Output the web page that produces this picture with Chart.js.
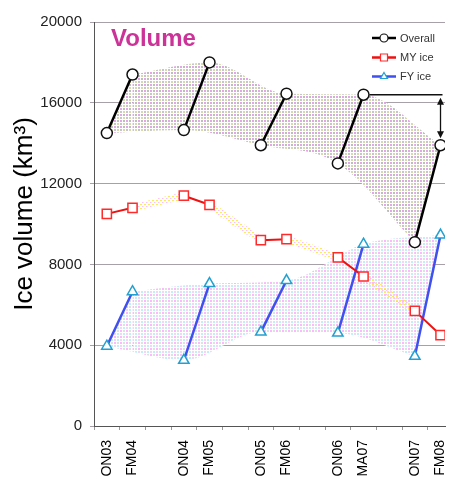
<!DOCTYPE html>
<html>
<head>
<meta charset="utf-8">
<script src="https://cdn.jsdelivr.net/npm/chart.js@4.4.1/dist/chart.umd.min.js"></script>
<style>
  html, body { margin: 0; padding: 0; background: #fff; }
  #wrap { width: 453px; height: 483px; }
</style>
</head>
<body>
<div id="wrap"><canvas id="c" width="453" height="483"></canvas></div>
<script>
// Campaign periods (autumn ON, winter FM / MA) and their month offsets from Oct–Nov 2003
const periods = ['ON03', 'FM04', 'ON04', 'FM05', 'ON05', 'FM06', 'ON06', 'MA07', 'ON07', 'FM08'];
const months  = [0, 4, 12, 16, 24, 28, 36, 40, 48, 52];

// Ice volume, km³
const overall = [14500, 17400, 14650, 18000, 13900, 16450, 13000, 16400, 9100, 13900];
const myIce   = [10500, 10800, 11400, 10950, 9200, 9250, 8350, 7400, 5700, 4500];
const fyIce   = [3950, 6650, 3250, 7050, 4650, 7200, 4600, 9000, 3450, 9450];

const yTicks = [0, 4000, 8000, 12000, 16000, 20000];

const FONT = "'Liberation Sans', Arial, sans-serif";

// indices of autumn and winter campaigns
const onIdx = [0, 2, 4, 6, 8];
const fmIdx = [1, 3, 5, 7, 9];
const winterGroups = onIdx.map((o, k) => [o, fmIdx[k]]);                  // growth season
const summerGroups = fmIdx.slice(0, -1).map((f, k) => [f, onIdx[k + 1]]); // melt season

const sel = (vals, idx) => idx.map(i => ({ x: months[i], y: vals[i] }));
function grouped(vals, groups) {
  const out = [];
  groups.forEach((g, k) => {
    if (k) out.push({ x: (months[groups[k - 1][1]] + months[g[0]]) / 2, y: null });
    out.push(...sel(vals, g));
  });
  return out;
}

const canvas = document.getElementById('c');
const c2d = canvas.getContext('2d');

// dotted screen fills
function tile(size, bg, cells) {
  const t = document.createElement('canvas');
  t.width = t.height = size;
  const g = t.getContext('2d');
  if (bg) { g.fillStyle = bg; g.fillRect(0, 0, size, size); }
  for (const [x, y, w, h, col] of cells) { g.fillStyle = col; g.fillRect(x, y, w, h); }
  return c2d.createPattern(t, 'repeat');
}
const overallShade = tile(6, '#ffffff', [
  [0, 0, 2, 2, '#e8a4e8'], [3, 0, 2, 2, '#bdbdbd'],
  [0, 3, 2, 2, '#c6c6c6'], [3, 3, 2, 2, '#d8d8a8']
]);
const fyShade = tile(6, '#ffffff', [
  [0, 0, 2, 2, '#ffb8ff'], [3, 0, 2, 2, '#e0e0e0'],
  [0, 3, 2, 2, '#f2d6f6'], [3, 3, 2, 2, '#bcf0ff']
]);
const myShade = tile(4, null, [
  [0, 0, 2, 1, '#ffe860'], [2, 2, 1, 1, '#ffc0f0'], [3, 2, 1, 1, '#fff090']
]);

const band = (data, fill, bg) => ({
  data, fill: fill === null ? false : { target: fill }, backgroundColor: bg,
  borderWidth: 0, pointRadius: 0, cubicInterpolationMode: 'monotone', order: 10
});

const datasets = [
  { label: 'Overall', data: grouped(overall, winterGroups), borderColor: '#000', borderWidth: 2.5,
    pointStyle: 'circle', pointRadius: 5.5, pointBackgroundColor: '#fff', pointBorderColor: '#111',
    pointBorderWidth: 1.5, order: 1 },
  { label: 'MY ice', data: grouped(myIce, winterGroups), borderColor: '#ee1111', borderWidth: 2,
    pointStyle: 'rect', pointRadius: 6.5, pointBackgroundColor: '#fff', pointBorderColor: '#ff2a2a',
    pointBorderWidth: 1.5, order: 2 },
  { label: 'FY ice', data: grouped(fyIce, winterGroups), borderColor: '#4050f0', borderWidth: 2.5,
    pointStyle: 'triangle', pointRadius: 6, pointBackgroundColor: '#fff', pointBorderColor: '#22a0d0',
    pointBorderWidth: 1.5, order: 3 },
  // MY ice loss over each summer
  { label: 'MY melt', data: grouped(myIce, summerGroups), borderColor: myShade, borderWidth: 7,
    borderCapStyle: 'butt', pointRadius: 0, fill: false, order: 5 },
  // overall envelope: winter maxima (4) over autumn minima (5), closed by the end segments (6, 7)
  band(sel(overall, fmIdx), 5, overallShade),
  band(sel(overall, onIdx), null, overallShade),
  band(sel(overall, winterGroups[0]), 5, overallShade),
  band(sel(overall, winterGroups[4]), 4, overallShade),
  // first-year ice envelope
  band(sel(fyIce, fmIdx), 9, fyShade),
  band(sel(fyIce, onIdx), null, fyShade),
  band(sel(fyIce, winterGroups[0]), 9, fyShade),
  band(sel(fyIce, winterGroups[4]), 8, fyShade)
];

const legendItems = [
  { text: 'Overall', color: '#000', mark: 'circle', markColor: '#111' },
  { text: 'MY ice', color: '#ee1111', mark: 'rect', markColor: '#ff2a2a' },
  { text: 'FY ice', color: '#4050f0', mark: 'triangle', markColor: '#22a0d0' }
];

function marker(ctx, kind, x, y, r, stroke) {
  ctx.beginPath();
  if (kind === 'circle') ctx.arc(x, y, r, 0, Math.PI * 2);
  else if (kind === 'rect') ctx.rect(x - r, y - r, 2 * r, 2 * r);
  else { ctx.moveTo(x, y - r); ctx.lineTo(x + r * 0.87, y + r * 0.5); ctx.lineTo(x - r * 0.87, y + r * 0.5); ctx.closePath(); }
  ctx.fillStyle = '#fff'; ctx.fill();
  ctx.strokeStyle = stroke; ctx.lineWidth = 1.2; ctx.stroke();
}

const decorations = {
  id: 'decorations',
  afterDatasetsDraw(chart) {
    const { ctx, chartArea: a, scales: { x, y } } = chart;
    ctx.save();

    // panel title
    ctx.font = 'bold 24px ' + FONT;
    ctx.fillStyle = '#cc3399';
    ctx.textAlign = 'left'; ctx.textBaseline = 'alphabetic';
    ctx.fillText('Volume', a.left + 17, a.top + 24);

    // legend
    const rows = [a.top + 16, a.top + 35.5, a.top + 54.5];
    legendItems.forEach((it, i) => {
      const ly = rows[i];
      ctx.strokeStyle = it.color; ctx.lineWidth = 2.5;
      ctx.beginPath(); ctx.moveTo(a.right - 73, ly); ctx.lineTo(a.right - 49, ly); ctx.stroke();
      marker(ctx, it.mark, a.right - 61, ly, it.mark === 'rect' ? 3.5 : 4, it.markColor);
      ctx.font = '11px ' + FONT; ctx.fillStyle = '#333';
      ctx.textAlign = 'left'; ctx.textBaseline = 'middle';
      ctx.fillText(it.text, a.right - 45, ly + 0.5);
    });

    // drop in overall volume from MA07 to FM08
    const xa = x.getPixelForValue(months[7]);
    const xb = x.getPixelForValue(months[9]);
    const ya = y.getPixelForValue(overall[7]);
    const yb = y.getPixelForValue(overall[9]);
    ctx.strokeStyle = '#111'; ctx.fillStyle = '#111'; ctx.lineWidth = 1.6;
    ctx.beginPath(); ctx.moveTo(xa + 6, ya); ctx.lineTo(xb + 2, ya); ctx.stroke();
    const top = ya + 3, bot = yb - 7;
    ctx.lineWidth = 1.3;
    ctx.beginPath(); ctx.moveTo(xb, top + 5); ctx.lineTo(xb, bot - 5); ctx.stroke();
    ctx.beginPath(); ctx.moveTo(xb, top); ctx.lineTo(xb + 3.5, top + 7); ctx.lineTo(xb - 3.5, top + 7); ctx.closePath(); ctx.fill();
    ctx.beginPath(); ctx.moveTo(xb, bot); ctx.lineTo(xb + 3.5, bot - 7); ctx.lineTo(xb - 3.5, bot - 7); ctx.closePath(); ctx.fill();

    ctx.restore();
  },
  afterDraw(chart) {
    const { ctx } = chart;
    ctx.save();
    ctx.translate(25, 214);
    ctx.rotate(-Math.PI / 2);
    ctx.font = '26px ' + FONT;
    ctx.fillStyle = '#000';
    ctx.textAlign = 'center'; ctx.textBaseline = 'middle';
    ctx.fillText('Ice volume (km³)', 0, 0);
    ctx.restore();
  }
};

new Chart(canvas, {
  type: 'line',
  data: { datasets },
  options: {
    responsive: false,
    animation: false,
    devicePixelRatio: 1,
    events: [],
    spanGaps: false,
    layout: { padding: { top: 22, right: 0, bottom: 0, left: 0 } },
    plugins: { legend: { display: false }, title: { display: false }, tooltip: { enabled: false } },
    scales: {
      x: {
        type: 'linear', position: 'bottom', min: -2, max: 52.7, weight: 1,
        afterBuildTicks: s => { s.ticks = months.map(v => ({ value: v })); },
        afterFit: s => { s.height = 57; s.paddingLeft = 0; s.paddingRight = 0; },
        ticks: {
          autoSkip: false, minRotation: 90, maxRotation: 90, padding: 14, color: '#000',
          font: { family: FONT, size: 14 },
          callback: v => periods[months.indexOf(v)]
        },
        grid: { display: false, drawTicks: false },
        border: { display: true, color: '#555', width: 1 }
      },
      xm: {
        type: 'linear', position: 'bottom', min: -2, max: 52.7, weight: 0,
        afterBuildTicks: s => {
          const t = [];
          for (let v = s.min; v <= s.max; v += 4) t.push({ value: v });
          s.ticks = t;
        },
        afterFit: s => { s.height = 0; s.paddingLeft = 0; s.paddingRight = 0; },
        ticks: { display: false },
        grid: { drawOnChartArea: false, drawTicks: true, tickLength: 4, color: '#999' },
        border: { display: false }
      },
      y: {
        type: 'linear', min: 0, max: 20000,
        afterBuildTicks: s => { s.ticks = yTicks.map(v => ({ value: v })); },
        afterFit: s => { s.width = 94; s.paddingTop = 0; s.paddingBottom = 0; },
        ticks: { padding: 8, color: '#222', font: { family: FONT, size: 15 }, callback: v => String(v) },
        grid: { color: '#a8a0a8', lineWidth: 1, tickLength: 4 },
        border: { color: '#555' }
      }
    }
  },
  plugins: [decorations]
});
</script>
</body>
</html>
